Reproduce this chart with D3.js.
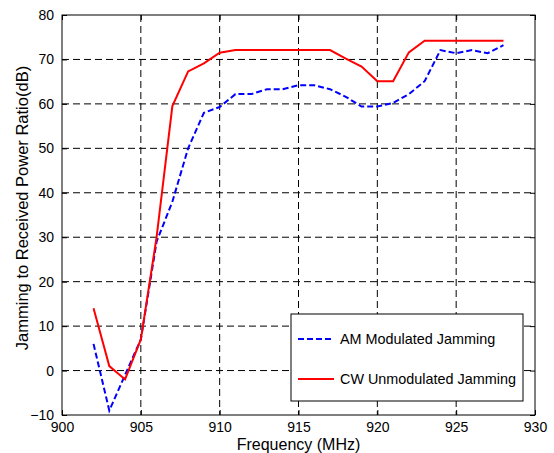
<!DOCTYPE html>
<html>
<head>
<meta charset="utf-8">
<script src="https://cdn.jsdelivr.net/npm/d3@7"></script>
<style>
  body { margin: 0; background: #fff; }
  text { font-family: "Liberation Sans", Arial, sans-serif; }
</style>
</head>
<body>
<div id="container"></div>
<script>
// data
var freqs = [902, 903, 904, 905, 906, 907, 908, 909, 910, 911, 912, 913, 914, 915,
             916, 917, 918, 919, 920, 921, 922, 923, 924, 925, 926, 927, 928];
var amValues = [6, -9, -1, 7, 29, 38, 50, 58, 59.3, 62.2, 62.2, 63.3, 63.3, 64.2,
                64.2, 63.3, 61.6, 59.4, 59.4, 60.2, 62.2, 65.1, 72.1, 71.4, 72.1, 71.4, 73.2];
var cwValues = [14, 1, -2, 7, 30, 59.5, 67.3, 69.1, 71.5, 72.1, 72.1, 72.1, 72.1, 72.1,
                72.1, 72.1, 70.2, 68.4, 65.1, 65.1, 71.6, 74.2, 74.2, 74.2, 74.2, 74.2, 74.2];
var xTicks = [900, 905, 910, 915, 920, 925, 930];
var yTicks = [-10, 0, 10, 20, 30, 40, 50, 60, 70, 80];
var seriesNames = ["AM Modulated Jamming", "CW Unmodulated Jamming"];

var margin = { top: 15, right: 19, bottom: 38, left: 62 },
    width = 554 - margin.left - margin.right,
    height = 453 - margin.top - margin.bottom;

var svg = d3.select("#container")
  .append("svg")
    .attr("width", 554)
    .attr("height", 453)
  .append("g")
    .attr("transform", "translate(" + margin.left + "," + margin.top + ")");

var xScale = d3.scaleLinear().domain([900, 930]).range([0, width]);
var yScale = d3.scaleLinear().domain([-10, 80]).range([height, 0]);

// grid
svg.append("g").selectAll("line").data(xTicks.slice(1, -1)).enter().append("line")
  .attr("x1", function(d) { return xScale(d); })
  .attr("x2", function(d) { return xScale(d); })
  .attr("y1", 0).attr("y2", height)
  .attr("stroke", "#000").attr("stroke-width", 1).attr("stroke-dasharray", "7,4");

svg.append("g").selectAll("line").data(yTicks.slice(1, -1)).enter().append("line")
  .attr("y1", function(d) { return yScale(d); })
  .attr("y2", function(d) { return yScale(d); })
  .attr("x1", 0).attr("x2", width)
  .attr("stroke", "#000").attr("stroke-width", 1).attr("stroke-dasharray", "7,4");

// axes, ticks inside on all four sides
var axisFont = "14px";
svg.append("g")
  .attr("transform", "translate(0," + height + ")")
  .call(d3.axisBottom(xScale).tickValues(xTicks).tickSizeInner(-5).tickSizeOuter(0).tickPadding(7.5))
  .call(function(g) {
    g.select(".domain").remove();
    g.selectAll("text").style("font-size", axisFont).attr("fill", "#000");
  });
svg.append("g")
  .call(d3.axisTop(xScale).tickValues(xTicks).tickSizeInner(-5).tickSizeOuter(0).tickFormat(""))
  .call(function(g) { g.select(".domain").remove(); });
svg.append("g")
  .call(d3.axisLeft(yScale).tickValues(yTicks).tickSizeInner(-5).tickSizeOuter(0).tickPadding(8))
  .call(function(g) {
    g.select(".domain").remove();
    g.selectAll("text").style("font-size", axisFont).attr("fill", "#000");
  });
svg.append("g")
  .attr("transform", "translate(" + width + ",0)")
  .call(d3.axisRight(yScale).tickValues(yTicks).tickSizeInner(-5).tickSizeOuter(0).tickFormat(""))
  .call(function(g) { g.select(".domain").remove(); });

svg.append("rect")
  .attr("width", width).attr("height", height)
  .attr("fill", "none").attr("stroke", "#000").attr("stroke-width", 1);

// lines
var seriesLine = d3.line()
  .x(function(d, i) { return xScale(freqs[i]); })
  .y(function(d) { return yScale(d); });

svg.append("path").datum(amValues)
  .attr("d", seriesLine)
  .attr("fill", "none").attr("stroke", "#0000ff").attr("stroke-width", 2)
  .attr("stroke-dasharray", "6,3");

svg.append("path").datum(cwValues)
  .attr("d", seriesLine)
  .attr("fill", "none").attr("stroke", "#ff0000").attr("stroke-width", 2);

// legend
var legend = svg.append("g").attr("transform", "translate(" + (291 - margin.left) + "," + (314 - margin.top) + ")");
legend.append("rect")
  .attr("width", 232).attr("height", 87)
  .attr("fill", "#fff").attr("stroke", "#000").attr("stroke-width", 1);
var styles = [{ c: "#0000ff", dash: "6,3" }, { c: "#ff0000", dash: null }];
seriesNames.forEach(function(name, i) {
  var y = 25 + i * 40;
  legend.append("line")
    .attr("x1", 7).attr("x2", 43).attr("y1", y).attr("y2", y)
    .attr("stroke", styles[i].c).attr("stroke-width", 2)
    .attr("stroke-dasharray", styles[i].dash);
  legend.append("text")
    .attr("x", 49).attr("y", y + 5)
    .style("font-size", "14.4px")
    .text(name);
});

// axis titles
svg.append("text")
  .attr("x", width / 2).attr("y", height + 35)
  .attr("text-anchor", "middle").style("font-size", "16px")
  .text("Frequency (MHz)");
svg.append("text")
  .attr("transform", "translate(" + (-34.5) + "," + (height / 2 - 7) + ") rotate(-90)")
  .attr("text-anchor", "middle").style("font-size", "16.5px")
  .text("Jamming to Received Power Ratio(dB)");
</script>
</body>
</html>
